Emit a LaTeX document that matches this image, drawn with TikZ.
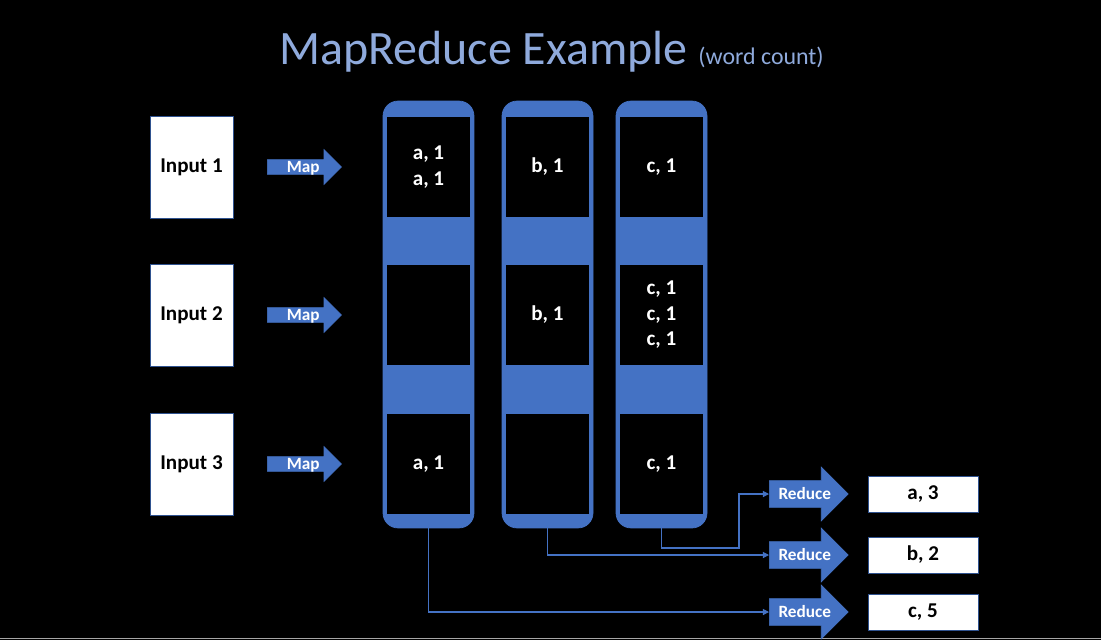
\documentclass[tikz,border=0pt]{standalone}
\usepackage{fontspec}
\setmainfont{Carlito}
\usetikzlibrary{positioning,shapes.arrows,arrows.meta}
\definecolor{accblue}{HTML}{4472C4}
\definecolor{edgeblue}{HTML}{2F528F}
\definecolor{titleblue}{HTML}{8FAADC}

\begin{document}
\begin{tikzpicture}[x=0.02cm,y=-0.02cm,
    inbox/.style={rectangle,draw=edgeblue,fill=white,minimum width=1.66cm,minimum height=2.04cm,font=\fontsize{12}{14.5}\selectfont\bfseries},
    colbox/.style={rectangle,rounded corners=0.3cm,draw=accblue,fill=accblue,minimum width=1.82cm,minimum height=8.54cm},
    slot/.style={rectangle,draw=accblue,line width=0.8pt,fill=black,text=white,minimum width=1.68cm,minimum height=2.04cm,align=center,font=\fontsize{12}{14.5}\selectfont\bfseries},
    maparrow/.style={single arrow,draw=accblue,fill=accblue,text=white,font=\fontsize{9.8}{11}\selectfont\bfseries,inner ysep=0pt,text height=6.9pt,text depth=1.0pt,single arrow head extend=0.2cm,minimum height=1.48cm,anchor=tail},
    redarrow/.style={single arrow,draw=accblue,fill=accblue,text=white,font=\fontsize{9.8}{11}\selectfont\bfseries,inner ysep=0pt,inner xsep=2pt,text height=10.4pt,text depth=4.35pt,single arrow head extend=0.27cm,minimum height=1.54cm,anchor=tail},
    outbox/.style={rectangle,draw=edgeblue,fill=white,minimum width=2.2cm,minimum height=0.72cm,font=\fontsize{12}{14.5}\selectfont\bfseries},
    conn/.style={draw=accblue,line width=0.6pt,-{Triangle[length=3.5pt,width=3.5pt]}}]
      %background
      \fill[black] (0,0) rectangle (1101,640);
      \useasboundingbox (0,0) rectangle (1101,640);
      \draw[gray!70,line width=0.8pt] (0,638.5) -- (1101,638.5);

      %title
      \node[text=titleblue] (title) at (551.5,52) {\fontsize{27.3}{32}\selectfont MapReduce Example \fontsize{13.6}{16}\selectfont(word count)};

      %inputs
      \node[inbox] (in1) at (191.5,167) {Input 1};
      \node[inbox] (in2) at (191.5,315) {Input 2};
      \node[inbox] (in3) at (191.5,464) {Input 3};

      %map arrows
      \node[maparrow] (map1) at (267,167) {\hspace*{3pt}Map};
      \node[maparrow] (map2) at (267,315) {\hspace*{3pt}Map};
      \node[maparrow] (map3) at (267,464) {\hspace*{3pt}Map};

      %columns
      \node[colbox] (col1) at (428.5,314.5) {};
      \node[colbox] (col2) at (547.5,314.5) {};
      \node[colbox] (col3) at (661.5,314.5) {};

      %slots
      \node[slot] (s11) at (428.5,167) {a, 1\\a, 1};
      \node[slot] (s12) at (428.5,315) {};
      \node[slot] (s13) at (428.5,464) {a, 1};
      \node[slot] (s21) at (547.5,167) {b, 1};
      \node[slot] (s22) at (547.5,315) {b, 1};
      \node[slot] (s23) at (547.5,464) {};
      \node[slot] (s31) at (661.5,167) {c, 1};
      \node[slot] (s32) at (661.5,315) {c, 1\\c, 1\\c, 1};
      \node[slot] (s33) at (661.5,464) {c, 1};

      %reduce
      \node[redarrow] (red1) at (769,494) {\hspace*{3pt}Reduce};
      \node[redarrow] (red2) at (769,555) {\hspace*{3pt}Reduce};
      \node[redarrow] (red3) at (769,612) {\hspace*{3pt}Reduce};

      %output
      \node[outbox] (out1) at (923,494) {a, 3};
      \node[outbox] (out2) at (923,555) {b, 2};
      \node[outbox] (out3) at (923,612) {c, 5};

      %shuffle lines
      \coordinate (bend) at (739,548);
      \draw[conn] (col1.south) |- (red3.west);
      \draw[conn] (col2.south) |- (red2.west);
      \draw[conn] (col3.south) |- (bend) |- (red1.west);
\end{tikzpicture}
\end{document}
